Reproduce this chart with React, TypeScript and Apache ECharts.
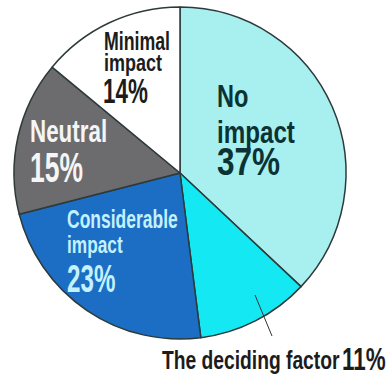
import React, { useEffect, useRef } from 'react';
import * as echarts from 'echarts';

const CATEGORIES = ['No impact', 'The deciding factor', 'Considerable impact', 'Neutral', 'Minimal impact'];
const VALUES = [37, 11, 23, 15, 14];
const NAME_LINES = [['No', 'impact'], ['The deciding factor'], ['Considerable', 'impact'], ['Neutral'], ['Minimal', 'impact']];
const COLORS = ['#a8eff0', '#14e9f3', '#1b6ec3', '#6c6c6f', '#ffffff'];
const TEXT_COLORS = ['#0c3333', '#1c1c1c', '#c4f1ff', '#f5f5f5', '#1c1c1c'];

// label layout (style only): per slice, per line [x, yCenter, fontSize, scaleX]
const NAME_LAYOUT = [
  [[217, 96, 31, 0.76], [217, 132, 31, 0.78]],
  [[162, 361, 25, 0.77]],
  [[67, 219, 25, 0.7], [67, 244, 24, 0.72]],
  [[30, 131, 32, 0.7]],
  [[104, 41, 25, 0.71], [104, 63, 24, 0.75]],
];
const PCT_LAYOUT = [
  [217, 161.5, 38, 0.83],
  [342, 358.5, 32, 0.7],
  [67, 279, 39, 0.62],
  [30, 167, 42, 0.63],
  [103, 90.5, 35, 0.64],
];

export default function App() {
  const ref = useRef<HTMLDivElement>(null);
  useEffect(() => {
    const chart = echarts.init(ref.current!, null, { renderer: 'svg' });
    const font = '"Liberation Sans", Arial, sans-serif';
    const data = CATEGORIES.map((name, i) => ({
      name,
      value: VALUES[i],
      itemStyle: { color: COLORS[i] },
    }));
    const texts: any[] = [];
    CATEGORIES.forEach((_, i) => {
      NAME_LINES[i].forEach((line, j) => {
        const [x, y, size, sx] = NAME_LAYOUT[i][j];
        texts.push({
          type: 'text',
          x,
          y,
          scaleX: sx,
          z: 10,
          style: {
            text: line,
            fontFamily: font,
            fontWeight: 'bold',
            fontSize: size,
            fill: TEXT_COLORS[i],
            align: 'left',
            verticalAlign: 'middle',
          },
        });
      });
      const [px, py, psize, psx] = PCT_LAYOUT[i];
      texts.push({
        type: 'text',
        x: px,
        y: py,
        scaleX: psx,
        z: 10,
        style: {
          text: `${VALUES[i]}%`,
          fontFamily: font,
          fontWeight: 'bold',
          fontSize: psize,
          fill: TEXT_COLORS[i],
          align: 'left',
          verticalAlign: 'middle',
        },
      });
    });
    chart.setOption({
      animation: false,
      backgroundColor: '#ffffff',
      series: [
        {
          type: 'pie',
          center: [180, 173],
          radius: 166,
          startAngle: 90,
          clockwise: true,
          avoidLabelOverlap: false,
          itemStyle: { borderColor: '#2e3a3a', borderWidth: 1.5 },
          label: { show: false },
          labelLine: { show: false },
          data,
        },
      ],
      graphic: [
        {
          type: 'line',
          z: 10,
          shape: { x1: 255, y1: 295, x2: 272, y2: 336 },
          style: { stroke: '#333333', lineWidth: 1 },
        },
        ...texts,
      ],
    });
    return () => chart.dispose();
  }, []);
  return (
    <div
      ref={ref}
      style={{ position: 'fixed', left: 0, top: 0, width: 386, height: 375 }}
    />
  );
}
